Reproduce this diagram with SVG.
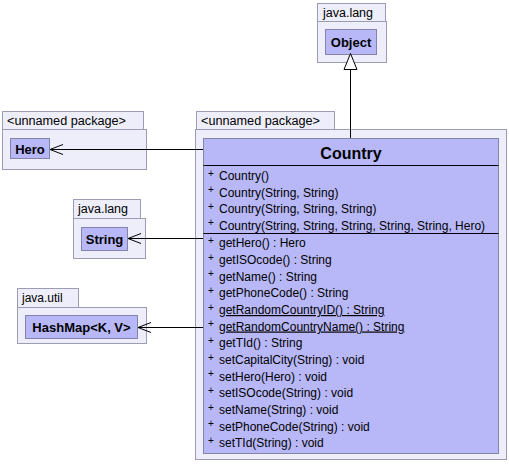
<svg xmlns="http://www.w3.org/2000/svg" width="509" height="469" viewBox="0 0 509 469">
<style>
.pkg{fill:#EEEEFA;stroke:#9C9CB4;stroke-width:1}
.cls{fill:#B8B8F8;stroke:#8484A8;stroke-width:1}
.tab{font-family:"Liberation Sans",Arial,sans-serif;font-size:12px;fill:#000}
.cn{font-family:"Liberation Sans",Arial,sans-serif;font-size:13px;font-weight:bold;fill:#000}
.title{font-family:"Liberation Sans",Arial,sans-serif;font-size:16px;font-weight:bold;fill:#000}
.m{font-family:"Liberation Sans",Arial,sans-serif;font-size:12px;fill:#000}
.p{font-family:"Liberation Sans",Arial,sans-serif;font-size:10px;fill:#000}
.sep{stroke:#000;stroke-width:1}
.con{stroke:#000;stroke-width:1;fill:none}
</style>
<defs>
<marker id="open" viewBox="0 0 14 12" refX="13" refY="6" markerWidth="14" markerHeight="12" markerUnits="userSpaceOnUse" orient="auto">
<path d="M0,1 L13,6 L0,11" fill="none" stroke="#000" stroke-width="1"/>
</marker>
</defs>
<g id="pkg-object">
<rect class="pkg" x="317.5" y="3.5" width="68" height="18"/>
<rect class="pkg" x="317.5" y="21.5" width="69" height="41"/>
<text class="tab" x="323" y="16.5" textLength="50" lengthAdjust="spacingAndGlyphs">java.lang</text>
</g>
<g id="node-object">
<rect class="cls" x="325.5" y="29.5" width="51" height="25"/>
<text class="cn" x="351" y="47" text-anchor="middle">Object</text>
</g>
<g id="pkg-hero">
<rect class="pkg" x="2.5" y="111.5" width="141" height="18"/>
<rect class="pkg" x="2.5" y="129.5" width="144" height="40"/>
<text class="tab" x="7" y="124.5" textLength="119" lengthAdjust="spacingAndGlyphs">&lt;unnamed package&gt;</text>
</g>
<g id="node-hero">
<rect class="cls" x="10.5" y="138.5" width="39" height="20"/>
<text class="cn" x="30" y="153.5" text-anchor="middle">Hero</text>
</g>
<g id="pkg-string">
<rect class="pkg" x="73.5" y="199.5" width="67" height="19"/>
<rect class="pkg" x="73.5" y="218.5" width="72" height="40"/>
<text class="tab" x="78" y="213" textLength="50" lengthAdjust="spacingAndGlyphs">java.lang</text>
</g>
<g id="node-string">
<rect class="cls" x="81.5" y="227.5" width="46" height="23"/>
<text class="cn" x="104.5" y="243.5" text-anchor="middle">String</text>
</g>
<g id="pkg-hashmap">
<rect class="pkg" x="17.5" y="288.5" width="61" height="19"/>
<rect class="pkg" x="17.5" y="307.5" width="129" height="36"/>
<text class="tab" x="22" y="302">java.util</text>
</g>
<g id="node-hashmap">
<rect class="cls" x="25.5" y="315.5" width="112" height="23"/>
<text class="cn" x="81.5" y="331.5" text-anchor="middle">HashMap&lt;K, V&gt;</text>
</g>
<g id="pkg-country">
<rect class="pkg" x="196.5" y="111.5" width="138" height="18"/>
<rect class="pkg" x="195.5" y="129.5" width="311" height="330"/>
<text class="tab" x="201" y="124.5" textLength="119" lengthAdjust="spacingAndGlyphs">&lt;unnamed package&gt;</text>
</g>
<g id="node-country">
<rect class="cls" x="203.5" y="138.5" width="295" height="315"/>
<text class="title" x="351" y="158.5" text-anchor="middle">Country</text>
<line class="sep" x1="203.5" y1="165.5" x2="498.5" y2="165.5"/>
<g class="rows">
<text class="p" x="208" y="177">+</text><text class="m" x="219" y="180">Country()</text>
<text class="p" x="208" y="193">+</text><text class="m" x="219" y="196.5">Country(String, String)</text>
<text class="p" x="208" y="210">+</text><text class="m" x="219" y="213">Country(String, String, String)</text>
<text class="p" x="208" y="226">+</text><text class="m" x="219" y="229.5">Country(String, String, String, String, String, Hero)</text>
</g>
<line class="sep" x1="203.5" y1="233.5" x2="498.5" y2="233.5"/>
<g class="rows">
<text class="p" x="208" y="244">+</text><text class="m" x="219" y="247">getHero() : Hero</text>
<text class="p" x="208" y="261">+</text><text class="m" x="219" y="264">getISOcode() : String</text>
<text class="p" x="208" y="277">+</text><text class="m" x="219" y="280.5">getName() : String</text>
<text class="p" x="208" y="294">+</text><text class="m" x="219" y="297">getPhoneCode() : String</text>
<text class="p" x="208" y="311">+</text><text class="m" x="219" y="314" text-decoration="underline">getRandomCountryID() : String</text>
<text class="p" x="208" y="327">+</text><text class="m" x="219" y="330.5" text-decoration="underline">getRandomCountryName() : String</text>
<text class="p" x="208" y="344">+</text><text class="m" x="219" y="347">getTId() : String</text>
<text class="p" x="208" y="361">+</text><text class="m" x="219" y="364">setCapitalCity(String) : void</text>
<text class="p" x="208" y="377">+</text><text class="m" x="219" y="380.5">setHero(Hero) : void</text>
<text class="p" x="208" y="394">+</text><text class="m" x="219" y="397">setISOcode(String) : void</text>
<text class="p" x="208" y="411">+</text><text class="m" x="219" y="414">setName(String) : void</text>
<text class="p" x="208" y="427">+</text><text class="m" x="219" y="430.5">setPhoneCode(String) : void</text>
<text class="p" x="208" y="444">+</text><text class="m" x="219" y="447">setTId(String) : void</text>
</g>
</g>
<g id="connectors">
<line class="con" x1="350.5" y1="138" x2="350.5" y2="69"/>
<path d="M344,69.5 L350.5,53.5 L357,69.5 Z" fill="#fff" stroke="#000" stroke-width="1"/>
<line class="con" x1="203" y1="149.5" x2="50" y2="149.5" marker-end="url(#open)"/>
<line class="con" x1="203" y1="238.5" x2="128" y2="238.5" marker-end="url(#open)"/>
<line class="con" x1="203" y1="327.5" x2="138" y2="327.5" marker-end="url(#open)"/>
</g>
</svg>
